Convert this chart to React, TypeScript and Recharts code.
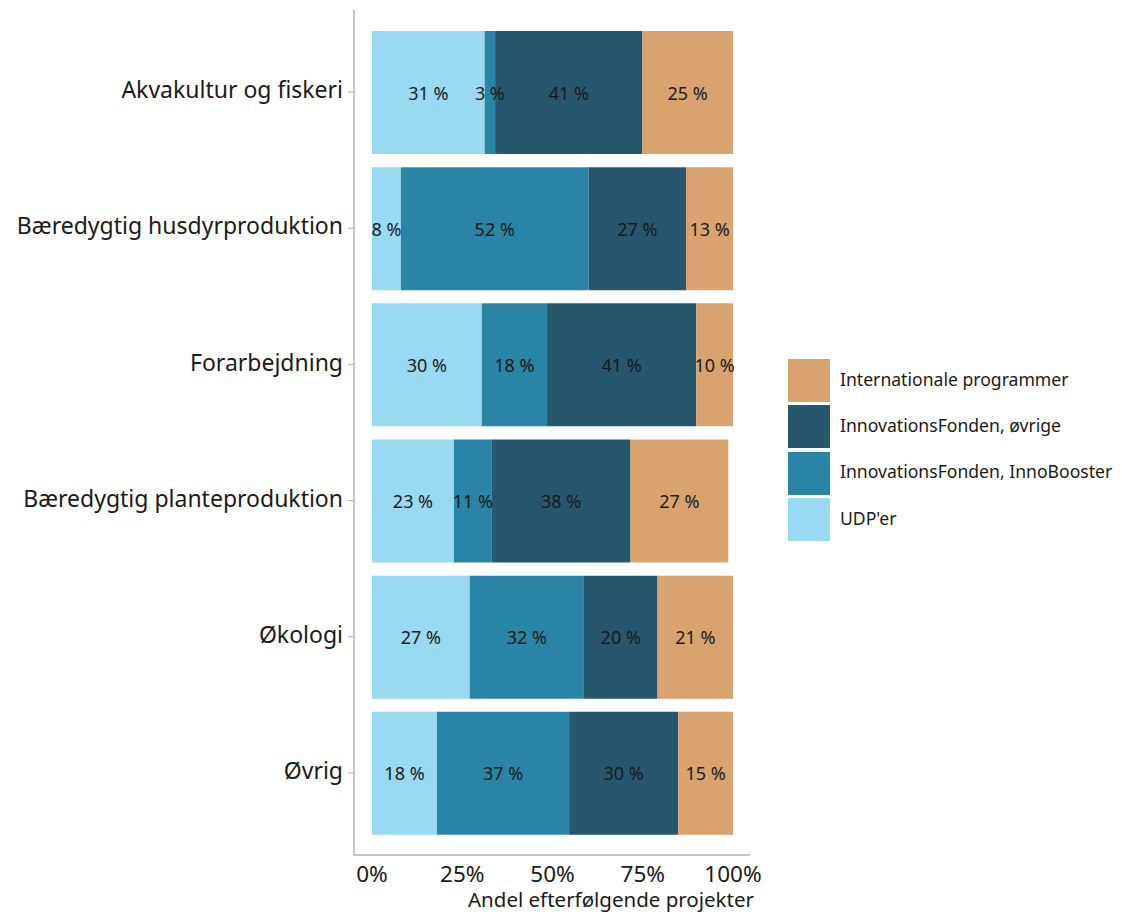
import React from 'react';
import { BarChart, Bar, XAxis, YAxis, LabelList } from 'recharts';

const categories = [
  'Akvakultur og fiskeri',
  'Bæredygtig husdyrproduktion',
  'Forarbejdning',
  'Bæredygtig planteproduktion',
  'Økologi',
  'Øvrig',
];
const udp = [31.2, 8, 30.4, 22.7, 27.1, 18];
const innoBooster = [2.9, 52, 18.1, 10.5, 31.6, 36.6];
const ifOvrige = [40.8, 27, 41.3, 38.4, 20.4, 30.2];
const international = [25.1, 13, 10.2, 27.1, 20.9, 15.2];
const xTicks = [0, 25, 50, 75, 100];
const xAxisTitle = 'Andel efterfølgende projekter';

const series = [
  { key: 'udp', name: "UDP'er", values: udp, color: '#99D9F2' },
  { key: 'innoBooster', name: 'InnovationsFonden, InnoBooster', values: innoBooster, color: '#2A84A6' },
  { key: 'ifOvrige', name: 'InnovationsFonden, øvrige', values: ifOvrige, color: '#26576C' },
  { key: 'international', name: 'Internationale programmer', values: international, color: '#D9A370' },
];

const data = categories.map((name, i) => {
  const row: Record<string, string | number> = { name };
  series.forEach((s) => {
    row[s.key] = s.values[i];
  });
  return row;
});

const FONT = '"Noto Sans", sans-serif';
const TEXT = '#1a1a1a';
const AXIS = '#b3b3b3';

const SegmentLabel = (props: any) => {
  const { x, y, width, height, value } = props;
  if (value == null) return null;
  return (
    <text
      x={Number(x) + Number(width) / 2}
      y={Number(y) + Number(height) / 2}
      textAnchor="middle"
      dominantBaseline="central"
      fontSize={18}
      fill={TEXT}
    >
      {`${Math.round(Number(value))} %`}
    </text>
  );
};

export default function App() {
  return (
    <div style={{ position: 'relative', width: 1117, height: 904, fontFamily: FONT }}>
      <BarChart
        width={1117}
        height={904}
        data={data}
        layout="vertical"
        margin={{ top: 2, right: 375, bottom: 0, left: 0 }}
        style={{ fontFamily: FONT }}
      >
        <XAxis
          type="number"
          domain={[0, 100]}
          ticks={xTicks}
          tickFormatter={(v: number) => `${v}%`}
          padding={{ left: 18, right: 17 }}
          height={57}
          axisLine={{ stroke: AXIS, strokeWidth: 1.5 }}
          tickLine={false}
          tickSize={0}
          tickMargin={11}
          tick={{ fontSize: 22.5, fill: TEXT }}
          label={{
            value: xAxisTitle,
            position: 'insideBottom',
            offset: 5,
            dx: 59,
            style: { fontSize: 20.5, fill: TEXT },
          }}
        />
        <YAxis
          type="category"
          dataKey="name"
          width={346}
          padding={{ top: 14, bottom: 14 }}
          axisLine={{ stroke: AXIS, strokeWidth: 1.5 }}
          tickLine={{ stroke: AXIS }}
          tickSize={6}
          tickMargin={5}
          tick={{ fontSize: 23, fill: TEXT, dy: -2 }}
        />
        {series.map((s) => (
          <Bar
            key={s.key}
            dataKey={s.key}
            name={s.name}
            stackId="a"
            fill={s.color}
            barSize={123}
            isAnimationActive={false}
          >
            <LabelList dataKey={s.key} content={SegmentLabel} />
          </Bar>
        ))}
      </BarChart>
      <div style={{ position: 'absolute', left: 780, top: 351, width: 337 }}>
        {[...series].reverse().map((s) => (
          <div
            key={s.key}
            style={{ display: 'flex', alignItems: 'center', height: 43, marginBottom: 3.4 }}
          >
            <div style={{ width: 42, height: 43, background: s.color, flexShrink: 0 }} />
            <span style={{ marginLeft: 10, fontSize: 17.6, color: TEXT, whiteSpace: 'nowrap', position: 'relative', top: -2 }}>
              {s.name}
            </span>
          </div>
        ))}
      </div>
    </div>
  );
}
